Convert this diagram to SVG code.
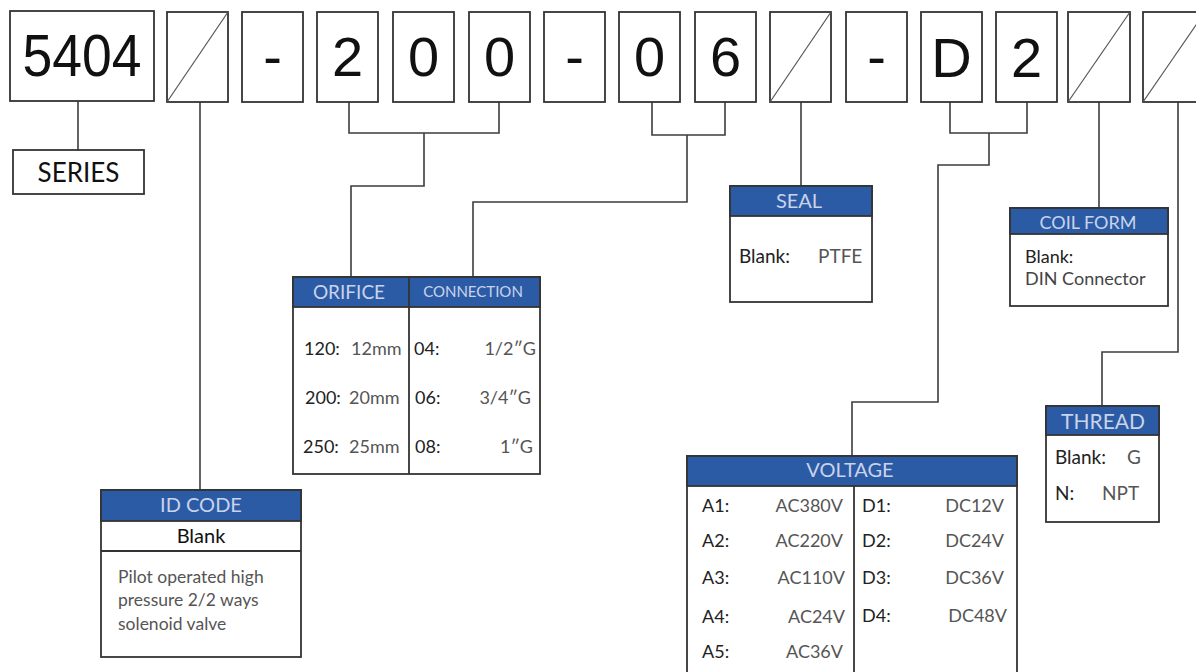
<svg xmlns="http://www.w3.org/2000/svg" width="1196" height="672" viewBox="0 0 1196 672">
<style>
.bx{fill:#fff;stroke:#333;stroke-width:1.8}
.hd{fill:#2c5ba6;stroke:#333;stroke-width:1.8}
.ln{fill:none;stroke:#3d3d3d;stroke-width:1.6}
.dg{stroke:#555;stroke-width:1.2}
.big{font-family:"Liberation Sans",Arial,sans-serif;font-size:56px;fill:#111;text-anchor:middle}
.ht{font-family:Lato,"Open Sans",sans-serif;fill:#c9d3ea;text-anchor:middle}
.lb{font-family:Lato,"Open Sans",sans-serif;font-size:18px;fill:#222}
.vl{font-family:Lato,"Open Sans",sans-serif;font-size:18px;fill:#555}
.vr{font-family:Lato,"Open Sans",sans-serif;font-size:18px;fill:#555;text-anchor:end}
</style>
<rect width="1196" height="672" fill="#fff"/>

<g id="connectors">
<path class="ln" d="M78 101V150"/>
<path class="ln" d="M200 102V490"/>
<path class="ln" d="M349 102V133H499V102M424 133V186H351V277"/>
<path class="ln" d="M652 102V135H725V102M687 135V202H473V277"/>
<path class="ln" d="M801 102V186"/>
<path class="ln" d="M950 102V133H1027V102M989 133V165H938V402H852V456"/>
<path class="ln" d="M1099 102V208"/>
<path class="ln" d="M1178 102V352H1102V406"/>
</g>

<g id="code">
<g id="c5404"><rect class="bx" x="10" y="11" width="144" height="90"/><text x="82" y="76" font-family="'Liberation Sans',Arial,sans-serif" font-size="60" fill="#111" text-anchor="middle" textLength="119" lengthAdjust="spacingAndGlyphs">5404</text></g>
<g id="c1"><rect class="bx" x="167" y="12" width="61" height="90"/><line class="dg" x1="167" y1="102" x2="228" y2="12"/></g>
<g id="c2"><rect class="bx" x="242" y="12" width="61" height="90"/><text class="big" x="272.5" y="76">-</text></g>
<g id="c3"><rect class="bx" x="317" y="12" width="61" height="90"/><text class="big" x="347.5" y="76">2</text></g>
<g id="c4"><rect class="bx" x="393" y="12" width="61" height="90"/><text class="big" x="423.5" y="76">0</text></g>
<g id="c5"><rect class="bx" x="469" y="12" width="61" height="90"/><text class="big" x="499.5" y="76">0</text></g>
<g id="c6"><rect class="bx" x="544" y="12" width="61" height="90"/><text class="big" x="574.5" y="76">-</text></g>
<g id="c7"><rect class="bx" x="619" y="12" width="61" height="90"/><text class="big" x="649.5" y="76">0</text></g>
<g id="c8"><rect class="bx" x="695" y="12" width="61" height="90"/><text class="big" x="725.5" y="76">6</text></g>
<g id="c9"><rect class="bx" x="770" y="12" width="61" height="90"/><line class="dg" x1="770" y1="102" x2="831" y2="12"/></g>
<g id="c10"><rect class="bx" x="846" y="12" width="61" height="90"/><text class="big" x="876.5" y="76">-</text></g>
<g id="c11"><rect class="bx" x="921" y="12" width="61" height="90"/><text class="big" x="951.5" y="77">D</text></g>
<g id="c12"><rect class="bx" x="996" y="12" width="61" height="90"/><text class="big" x="1026.5" y="77">2</text></g>
<g id="c13"><rect class="bx" x="1068" y="12" width="62" height="90"/><line class="dg" x1="1068" y1="102" x2="1130" y2="12"/></g>
<g id="c14"><rect class="bx" x="1143" y="12" width="62" height="90"/><line class="dg" x1="1143" y1="102" x2="1205" y2="12"/></g>
</g>

<g id="series">
<rect class="bx" x="13" y="150" width="131" height="44"/>
<text x="78.5" y="182" font-family="Lato,'Open Sans',sans-serif" font-size="26" fill="#111" text-anchor="middle">SERIES</text>
</g>

<g id="idcode">
<rect class="bx" x="101" y="490" width="200" height="167"/>
<rect class="hd" x="101" y="490" width="200" height="31"/>
<line class="bx" x1="101" y1="551" x2="301" y2="551"/>
<text class="ht" x="201" y="512" font-size="20">ID CODE</text>
<text x="201" y="543" font-family="Lato,'Open Sans',sans-serif" font-size="20" fill="#111" text-anchor="middle">Blank</text>
<text class="vl" font-size="17.5" x="118" y="583" style="font-size:17.5px">Pilot operated high</text>
<text class="vl" x="118" y="606" style="font-size:17.5px">pressure 2/2 ways</text>
<text class="vl" x="118" y="630" style="font-size:17.5px">solenoid valve</text>
</g>

<g id="orifice">
<rect class="bx" x="293" y="277" width="247" height="197"/>
<rect class="hd" x="293" y="277" width="247" height="30"/>
<line class="bx" x1="409" y1="277" x2="409" y2="474"/>
<text class="ht" x="349" y="299" font-size="19">ORIFICE</text>
<text class="ht" x="473" y="297" font-size="15">CONNECTION</text>
<text class="lb" x="304" y="355">120:</text><text class="vl" x="351" y="355">12mm</text>
<text class="lb" x="305" y="404">200:</text><text class="vl" x="349" y="404">20mm</text>
<text class="lb" x="303" y="453">250:</text><text class="vl" x="349" y="453">25mm</text>
<text class="lb" x="414" y="355">04:</text><text class="vr" x="536" y="355">1/2″G</text>
<text class="lb" x="415" y="404">06:</text><text class="vr" x="531" y="404">3/4″G</text>
<text class="lb" x="415" y="453">08:</text><text class="vr" x="533" y="453">1″G</text>
</g>

<g id="seal">
<rect class="bx" x="730" y="186" width="142" height="116"/>
<rect class="hd" x="730" y="186" width="142" height="30"/>
<text class="ht" x="799" y="208" font-size="20">SEAL</text>
<text class="lb" x="739" y="263" style="font-size:19px">Blank:</text>
<text class="vl" x="818" y="263" style="font-size:19px">PTFE</text>
</g>

<g id="coilform">
<rect class="bx" x="1010" y="208" width="158" height="98"/>
<rect class="hd" x="1010" y="208" width="158" height="26"/>
<text class="ht" x="1088" y="229" font-size="18">COIL FORM</text>
<text class="lb" x="1025" y="263">Blank:</text>
<text class="vl" x="1025" y="285" style="fill:#444">DIN Connector</text>
</g>

<g id="thread">
<rect class="bx" x="1046" y="406" width="113" height="116"/>
<rect class="hd" x="1046" y="406" width="113" height="29"/>
<text class="ht" x="1103" y="429" font-size="21">THREAD</text>
<text class="lb" x="1055" y="464" style="font-size:19px">Blank:</text>
<text class="vl" x="1127" y="464" style="font-size:19px">G</text>
<text class="lb" x="1055" y="500" style="font-size:19px">N:</text>
<text class="vl" x="1102" y="500" style="font-size:19px">NPT</text>
</g>

<g id="voltage">
<rect class="bx" x="687" y="456" width="330" height="230"/>
<rect class="hd" x="687" y="456" width="330" height="30"/>
<line class="bx" x1="854" y1="486" x2="854" y2="686"/>
<text class="ht" x="850" y="477" font-size="20">VOLTAGE</text>
<text class="lb" x="702" y="512">A1:</text><text class="vr" x="843" y="512">AC380V</text>
<text class="lb" x="702" y="547">A2:</text><text class="vr" x="843" y="547">AC220V</text>
<text class="lb" x="702" y="584">A3:</text><text class="vr" x="845" y="584">AC110V</text>
<text class="lb" x="702" y="623">A4:</text><text class="vr" x="845" y="623">AC24V</text>
<text class="lb" x="702" y="658">A5:</text><text class="vr" x="843" y="658">AC36V</text>
<text class="lb" x="862" y="512">D1:</text><text class="vr" x="1004" y="512">DC12V</text>
<text class="lb" x="862" y="547">D2:</text><text class="vr" x="1004" y="547">DC24V</text>
<text class="lb" x="862" y="584">D3:</text><text class="vr" x="1004" y="584">DC36V</text>
<text class="lb" x="862" y="622">D4:</text><text class="vr" x="1007" y="622">DC48V</text>
</g>
</svg>
